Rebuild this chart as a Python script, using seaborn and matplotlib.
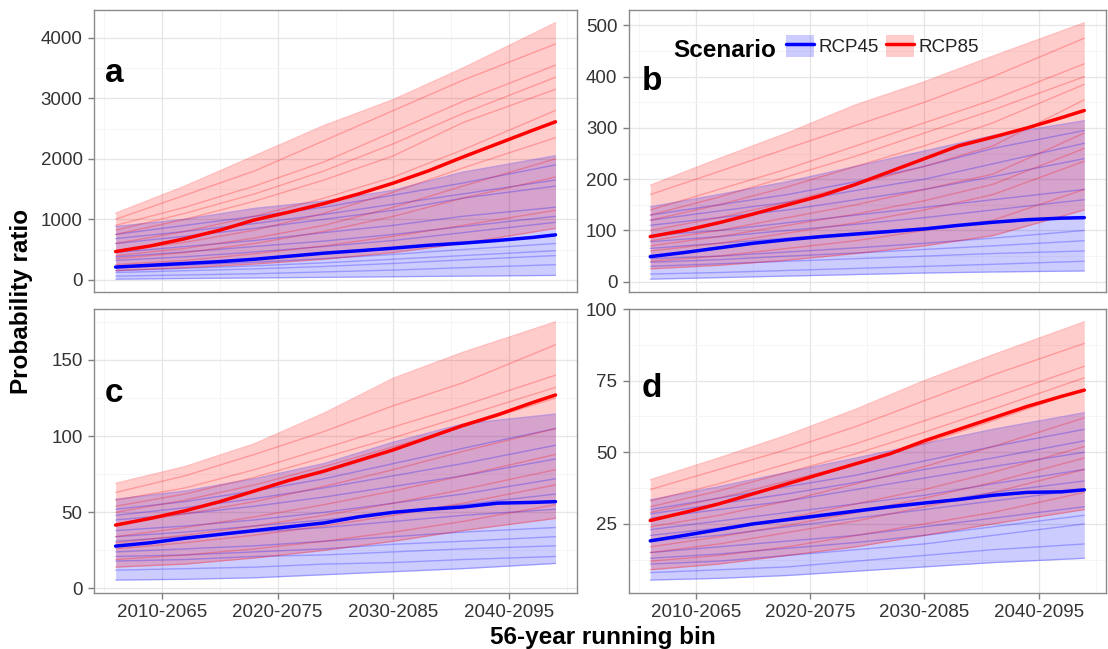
import numpy as np
import pandas as pd
import seaborn as sns
import matplotlib.pyplot as plt
from matplotlib.patches import Patch
from matplotlib.lines import Line2D
from matplotlib.ticker import MultipleLocator, AutoMinorLocator

# start year of each 56-year running bin
model_years = [2006, 2012, 2018, 2024, 2030, 2036, 2044]
median_years = [2006, 2009, 2012, 2015, 2018, 2021, 2024, 2027, 2030, 2033, 2036, 2039, 2042, 2044]
tick_years = [2010, 2020, 2030, 2040]
tick_labels = ['2010-2065', '2020-2075', '2030-2085', '2040-2095']
scenarios = ['RCP45', 'RCP85']
panel_letters = ['a', 'b', 'c', 'd']

# panel a
a_rcp45_models = [
    [880, 1000, 1180, 1300, 1480, 1780, 2050],
    [750, 900, 1050, 1200, 1400, 1600, 1900],
    [680, 800, 930, 1080, 1250, 1420, 1650],
    [600, 720, 850, 1000, 1150, 1350, 1550],
    [450, 550, 650, 780, 900, 1050, 1200],
    [380, 460, 550, 640, 750, 880, 1050],
    [320, 380, 460, 550, 650, 780, 950],
    [200, 240, 290, 350, 420, 500, 600],
    [150, 190, 230, 280, 340, 400, 480],
    [120, 150, 180, 220, 270, 330, 400],
    [60, 80, 100, 130, 160, 200, 250],
    [10, 20, 30, 40, 50, 60, 72],
]
a_rcp85_models = [
    [1100, 1550, 2050, 2550, 2980, 3500, 4250],
    [1000, 1400, 1800, 2300, 2800, 3300, 3900],
    [900, 1200, 1550, 1950, 2450, 2950, 3550],
    [820, 1100, 1420, 1800, 2250, 2750, 3350],
    [750, 1000, 1300, 1650, 2050, 2600, 3150],
    [600, 800, 1050, 1350, 1700, 2150, 2800],
    [480, 620, 820, 1100, 1450, 1850, 2350],
    [400, 520, 690, 900, 1200, 1550, 2000],
    [350, 450, 600, 800, 1050, 1350, 1700],
    [250, 320, 430, 560, 720, 900, 1150],
    [150, 200, 260, 340, 450, 600, 850],
]
a_rcp45_median = [210, 240, 270, 300, 340, 390, 440, 480, 523, 570, 606, 650, 700, 743]
a_rcp85_median = [467, 560, 680, 820, 990, 1120, 1260, 1420, 1600, 1800, 2030, 2250, 2470, 2613]

# panel b
b_rcp45_models = [
    [146, 170, 195, 225, 255, 285, 314],
    [130, 150, 170, 195, 225, 260, 295],
    [120, 138, 155, 178, 200, 230, 270],
    [110, 125, 140, 160, 180, 205, 240],
    [90, 100, 115, 130, 145, 160, 180],
    [78, 88, 100, 112, 125, 140, 160],
    [65, 75, 85, 95, 105, 115, 125],
    [45, 50, 58, 66, 75, 85, 100],
    [38, 43, 50, 56, 63, 70, 80],
    [30, 35, 40, 45, 50, 55, 60],
    [15, 18, 22, 26, 30, 34, 40],
    [5, 8, 11, 14, 17, 19, 21],
]
b_rcp85_models = [
    [188, 240, 290, 345, 390, 440, 505],
    [170, 215, 260, 305, 350, 400, 475],
    [140, 180, 220, 265, 310, 355, 425],
    [130, 165, 205, 245, 290, 335, 400],
    [120, 150, 185, 225, 265, 310, 385],
    [100, 125, 155, 190, 225, 265, 355],
    [80, 100, 125, 150, 180, 210, 290],
    [70, 88, 110, 132, 158, 190, 260],
    [60, 75, 95, 115, 140, 170, 235],
    [40, 50, 65, 80, 100, 120, 180],
    [25, 32, 42, 55, 70, 90, 140],
]
b_rcp45_median = [49, 57, 66, 75, 82, 88, 93, 98, 103, 110, 116, 121, 124, 125]
b_rcp85_median = [88, 100, 115, 132, 150, 168, 190, 215, 240, 265, 282, 300, 320, 334]

# panel c
c_rcp45_models = [
    [58.5, 64, 72, 82, 96, 108, 114.5],
    [52, 57, 64, 72, 82, 92, 105],
    [48, 53, 59, 66, 74, 82, 94],
    [45, 49, 54, 60, 67, 74, 85],
    [38, 41, 45, 50, 56, 62, 72],
    [34, 37, 41, 45, 50, 55, 62],
    [31, 34, 37, 40, 44, 48, 52],
    [24, 26, 28, 31, 34, 37, 40],
    [21, 22, 24, 26, 29, 31, 34],
    [18, 19, 21, 22, 24, 26, 28],
    [12, 13, 14, 16, 17, 19, 21],
    [5.5, 6, 7, 9, 11, 13, 16.4],
]
c_rcp85_models = [
    [69, 80, 95, 115, 138, 155, 175],
    [63, 74, 88, 103, 120, 135, 160],
    [58, 66, 78, 92, 106, 120, 140],
    [54, 62, 73, 86, 99, 113, 132],
    [50, 58, 68, 80, 93, 106, 125],
    [42, 49, 57, 67, 78, 90, 105],
    [34, 40, 47, 55, 64, 74, 88],
    [30, 35, 41, 48, 56, 65, 78],
    [26, 30, 35, 41, 48, 56, 68],
    [19, 22, 26, 31, 37, 44, 55],
    [14, 16, 20, 25, 31, 38, 46],
]
c_rcp45_median = [27.8, 30, 33, 35.5, 38, 40.5, 43, 47, 50, 52, 53.5, 56, 56.5, 57]
c_rcp85_median = [41.6, 46, 51, 57, 64, 71, 77, 84, 91, 99, 107, 114, 122, 127]

# panel d
d_rcp45_models = [
    [33.4, 38, 43, 48, 53, 58, 63.8],
    [30, 34, 38, 42, 47, 52, 58],
    [28.5, 32, 35.5, 39.5, 44, 48, 54],
    [27, 30, 33, 37, 41, 45, 50],
    [23, 26, 29, 32, 35, 39, 44],
    [21, 23.5, 26, 29, 32, 36, 40],
    [19, 21, 24, 27, 30, 33, 37],
    [15, 17, 19, 21, 24, 27, 31],
    [13, 14.5, 16.5, 18.5, 21, 24, 28],
    [11, 12, 14, 16, 18, 21, 25],
    [8, 9, 10, 12, 14, 16, 18],
    [5.4, 6, 7, 8.5, 10, 11.5, 13],
]
d_rcp85_models = [
    [40.4, 48, 56, 65, 75, 84, 95.5],
    [37, 44, 51, 59, 68, 77, 88],
    [33, 39, 46, 53, 61, 69, 80],
    [31, 36.5, 43, 49.5, 57, 65, 76],
    [29, 34, 40, 46, 53, 61, 72],
    [24, 28, 33, 39, 45, 52, 62],
    [19, 23, 27, 32, 37, 43, 52],
    [17, 20.5, 24.5, 29, 34, 39.5, 48],
    [15, 18, 22, 26, 31, 36, 44],
    [12, 14, 17, 21, 25, 29, 36],
    [9, 11, 14, 17, 21, 25, 30],
]
d_rcp45_median = [19.1, 21, 23, 25, 26.5, 28, 29.5, 31, 32.3, 33.5, 35, 36, 36.2, 36.9]
d_rcp85_median = [26.2, 29, 32, 35.5, 39, 42.5, 46, 49.5, 54, 58, 62, 66, 69.5, 71.7]

panels = [
    (a_rcp45_models, a_rcp85_models, a_rcp45_median, a_rcp85_median),
    (b_rcp45_models, b_rcp85_models, b_rcp45_median, b_rcp85_median),
    (c_rcp45_models, c_rcp85_models, c_rcp45_median, c_rcp85_median),
    (d_rcp45_models, d_rcp85_models, d_rcp45_median, d_rcp85_median),
]

colors = {'RCP45': 'blue', 'RCP85': 'red'}
ystep = [1000, 100, 50, 25]
letter_pos = [(0.024, 0.745), (0.028, 0.716), (0.024, 0.6725), (0.028, 0.69)]
rects = [
    [0.0845, 0.5501, 0.4367, 0.4345],
    [0.5673, 0.5501, 0.4309, 0.4345],
    [0.0845, 0.0863, 0.4367, 0.4376],
    [0.5673, 0.0863, 0.4309, 0.4376],
]

sns.set_style('white')
plt.rcParams['font.family'] = ['Liberation Sans', 'DejaVu Sans']


def long_models(models, scen):
    rows = []
    for i, m in enumerate(models):
        for yr, v in zip(model_years, m):
            rows.append((scen, i, yr, v))
    return pd.DataFrame(rows, columns=['scenario', 'model', 'bin', 'ratio'])


fig = plt.figure(figsize=(11.08, 6.49), dpi=100)

for k, (m45, m85, md45, md85) in enumerate(panels):
    ax = fig.add_axes(rects[k])
    for scen, models, med in [('RCP45', m45, md45), ('RCP85', m85, md85)]:
        arr = np.array(models, dtype=float)
        ax.fill_between(model_years, arr.min(0), arr.max(0),
                        color=colors[scen], alpha=0.2, lw=0, zorder=2)
        sns.lineplot(data=long_models(models, scen), x='bin', y='ratio',
                     units='model', estimator=None, color=colors[scen],
                     alpha=0.25, lw=1, ax=ax, zorder=3)
        dm = pd.DataFrame({'bin': median_years, 'ratio': med})
        sns.lineplot(data=dm, x='bin', y='ratio', color=colors[scen],
                     lw=2.5, ax=ax, zorder=4)

    allv = np.concatenate([np.ravel(m45), np.ravel(m85)])
    lo, hi = allv.min(), allv.max()
    pad = 0.05 * (hi - lo)
    ax.set_ylim(lo - pad, hi + pad)
    xpad = 0.05 * (model_years[-1] - model_years[0])
    ax.set_xlim(model_years[0] - xpad, model_years[-1] + xpad)

    ax.set_xlabel('')
    ax.set_ylabel('')
    ax.set_xticks(tick_years)
    ax.xaxis.set_minor_locator(MultipleLocator(5))
    ax.yaxis.set_major_locator(MultipleLocator(ystep[k]))
    ax.yaxis.set_minor_locator(AutoMinorLocator(2))
    ax.grid(True, which='major', color='#e6e6e6', lw=0.9, zorder=0)
    ax.grid(True, which='minor', color='#f4f4f4', lw=0.6, zorder=0)
    ax.set_axisbelow(True)
    for s in ax.spines.values():
        s.set_color('#8a8a8a')
        s.set_linewidth(1)
    ax.tick_params(axis='both', which='major', length=4, width=1, color='#7f7f7f',
                   labelcolor='#333333', labelsize=13.5, pad=4, left=True, bottom=True)
    ax.tick_params(axis='both', which='minor', length=0)
    if k < 2:
        ax.tick_params(axis='x', which='major', length=0, labelbottom=False)
    else:
        ax.set_xticklabels(tick_labels)

    ax.text(letter_pos[k][0], letter_pos[k][1], panel_letters[k], transform=ax.transAxes,
            fontsize=24, fontweight='bold', color='black', ha='left', va='baseline', zorder=6)

    if k == 1:
        ax.text(0.093, 0.833, 'Scenario', transform=ax.transAxes, fontsize=17.5,
                fontweight='bold', color='black', ha='left', va='baseline', zorder=6)
        handles = []
        for scen in scenarios:
            handles.append((Patch(facecolor=colors[scen], alpha=0.2, edgecolor='none'),
                            Line2D([], [], color=colors[scen], lw=2.5)))
        leg = ax.legend(handles, scenarios, loc='upper left', bbox_to_anchor=(0.33, 0.911),
                        ncol=2, frameon=False, fontsize=13.5, handlelength=1.47,
                        handleheight=1.44, handletextpad=0.25, columnspacing=0.4,
                        borderpad=0, borderaxespad=0)
        for t in leg.get_texts():
            t.set_color('#222222')

fig.text(0.019, 0.536, 'Probability ratio', rotation=90, fontsize=17.5,
         fontweight='bold', color='black', ha='center', va='center')
fig.text(0.544, 0.018, '56-year running bin', fontsize=17.5, fontweight='bold',
         color='black', ha='center', va='center')

fig.savefig('out.png', dpi=100)
